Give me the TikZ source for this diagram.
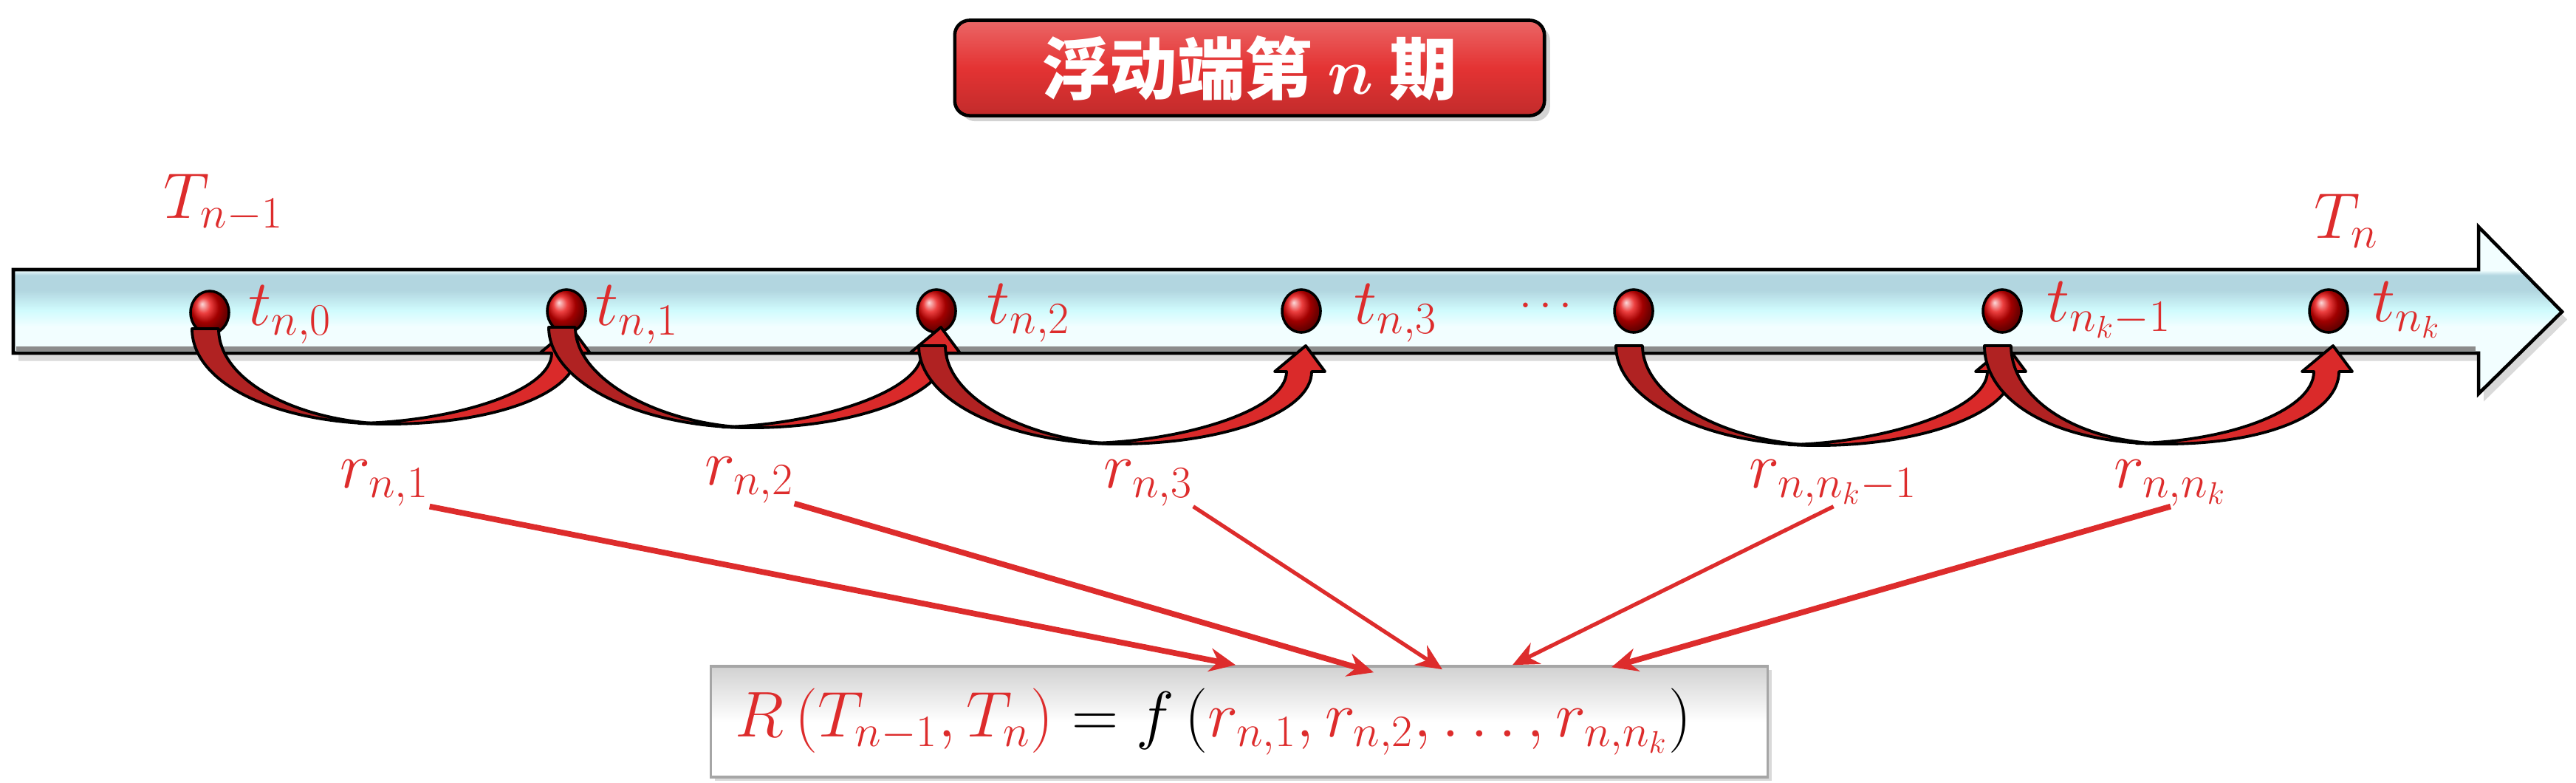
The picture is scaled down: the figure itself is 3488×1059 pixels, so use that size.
\documentclass[tikz,border=0pt]{standalone}
\usepackage{fontspec}
\newfontfamily\cjk{Noto Sans CJK SC}
\usetikzlibrary{shapes.geometric,calc,arrows.meta,shadows}

\definecolor{tred}{HTML}{DD2C2C}
\definecolor{hopdark}{HTML}{B02222}
\definecolor{hoplight}{HTML}{DA2A2A}
\definecolor{titlered}{HTML}{E43333}
\definecolor{barhi}{HTML}{B2D6E0}
\definecolor{barmid}{HTML}{D0FBFD}
\definecolor{barlow}{HTML}{F2FEFF}

\pgfdeclareverticalshading{barshade}{100bp}{color(0bp)=(barlow); color(39bp)=(barlow); color(45bp)=(barlow); color(50bp)=(barmid); color(56bp)=(barhi); color(60.5bp)=(barhi); color(62bp)=(barlow); color(100bp)=(barlow)}

% one hop: back band from dot #1, front band with head into dot #2
% #3 = drop of the tail top, #4 = drop of the lowest point
\newcommand{\hop}[4]{%
\coordinate (hm) at ($(#1)!0.5!(#2)$);
\filldraw[hopback] ($(#1)+(-24,-#3)$) .. controls ($(#1)+(-24,{-#3-75})$) and ($(hm)+(-150,-#4)$) .. ($(hm)+(0,-#4)$)
  .. controls ($(hm)+(-120,{-#4+3})$) and ($(#1)+(12,{-#3-72})$) .. ($(#1)+(12,-#3)$) -- cycle;
\filldraw[hopfront] ($(hm)+(-40,{-#4+1})$) -- ($(hm)+(0,-#4)$) .. controls ($(hm)+(143,-#4)$) and ($(#2)+(14,{-#3-90})$) .. ($(#2)+(14,{-#3-35})$)
  -- ($(#2)+(32,{-#3-35})$) -- ($(#2)+(6,-#3)$) -- ($(#2)+(-36,{-#3-35})$) -- ($(#2)+(-20,{-#3-35})$)
  .. controls ($(#2)+(-20,{-#3-88})$) and ($(hm)+(84,{-#4+3})$) .. ($(hm)+(-40,{-#4+1})$) -- cycle;
}

\begin{document}
\begin{tikzpicture}[x=0.01cm, y=0.01cm]
\tikzstyle{every node}+=[inner sep=0pt]
\tikzstyle{lab}=[text=tred, font=\fontsize{25}{30}\selectfont]
\tikzstyle{tdot}=[ellipse, draw=black, line width=1pt, minimum width=0.52cm, minimum height=0.58cm, ball color=red!90!black]
\tikzstyle{hopback}=[fill=hopdark, draw=black, line width=1.1pt, line join=round]
\tikzstyle{hopfront}=[fill=hoplight, draw=black, line width=1.1pt, line join=round]
\tikzstyle{feed}=[draw=tred, line width=2.2pt, -{Stealth[length=10pt,width=9pt]}]
\tikzstyle{titlebox}=[draw=black, line width=1.3pt, rounded corners=0.2cm, minimum width=7.98cm, minimum height=1.29cm,
  top color=titlered!75!white, bottom color=titlered!85!black, middle color=titlered, text=white,
  font=\fontsize{26}{30}\selectfont\bfseries, drop shadow={opacity=0.35}]
\tikzstyle{formbox}=[draw=black!35, line width=1pt, minimum width=14.3cm, minimum height=1.5cm,
  top color=black!18, bottom color=white, middle color=white, font=\fontsize{25.5}{30}\selectfont,
  drop shadow={opacity=0.3, shadow xshift=1.5pt, shadow yshift=-1.5pt}]
\useasboundingbox (0,0) rectangle (3488,-1059);

% title
\node[titlebox] (title) at (1692,-92) {\cjk 浮动端第 {\boldmath$n$} 期};

% time bar
\shadedraw[shading=barshade, draw=black, line width=1.3pt, drop shadow={opacity=0.3, shadow xshift=2pt, shadow yshift=-3pt}]
  (18,-365) -- (3356,-365) -- (3356,-307) -- (3469,-422) -- (3356,-533) -- (3356,-478) -- (18,-478) -- cycle;
\draw[black!45, line width=1.5pt] (22,-472) -- (3352,-472);

\node[lab, anchor=base west] (Tprev) at (221,-295) {$T_{n-1}$};
\node[lab, anchor=base west] (Tcur) at (3133,-322) {$T_n$};

% points on the bar
\node[tdot] (d0) at (284,-423) {};
\node[tdot] (d1) at (767,-421) {};
\node[tdot] (d2) at (1268,-421) {};
\node[tdot] (d3) at (1762,-421) {};
\node[tdot] (d4) at (2212,-421) {};
\node[tdot] (d5) at (2711,-421) {};
\node[tdot] (d6) at (3153,-421) {};

\node[lab, anchor=base west] (t0) at (336,-440) {$t_{n,0}$};
\node[lab, anchor=base west] (t1) at (806,-440) {$t_{n,1}$};
\node[lab, anchor=base west] (t2) at (1336,-438) {$t_{n,2}$};
\node[lab, anchor=base west] (t3) at (1833,-438) {$t_{n,3}$};
\node[lab, anchor=base] (dd) at (2093,-428) {\fontsize{16}{18}\selectfont$\cdots$};
\node[lab, anchor=base west] (t5) at (2771,-435) {$t_{n_k-1}$};
\node[lab, anchor=base west] (t6) at (3212,-435) {$t_{n_k}$};

% hops
\hop{d0}{d1}{22}{152}
\hop{d1}{d2}{22}{158}
\hop{d2}{d3}{47}{180}
\hop{d4}{d5}{47}{182}
\hop{d5}{d6}{47}{180}

% returns
\node[lab, anchor=base west] (r1) at (460,-660) {$r_{n,1}$};
\node[lab, anchor=base west] (r2) at (954,-656) {$r_{n,2}$};
\node[lab, anchor=base west] (r3) at (1494,-660) {$r_{n,3}$};
\node[lab, anchor=base west] (r4) at (2368,-660) {$r_{n,n_k-1}$};
\node[lab, anchor=base west] (r5) at (2862,-660) {$r_{n,n_k}$};

% formula
\node[formbox] (box) at (1678,-977)
  {$\color{tred}R\left(T_{n-1},T_n\right)\color{black}=f\left(\color{tred}r_{n,1},r_{n,2},\dots,r_{n,n_k}\color{black}\right)$\hspace*{0.7cm}};

\draw[feed] (r1.south east) -- ($(box.north)+(-5,0)$);
\draw[feed] (r2.south east) -- ($(box.north)+(182,-10)$);
\draw[feed, line width=1.5pt] (r3.south east) -- ($(box.north)+(275,-6)$);
\draw[feed, line width=1.5pt] (r4.south) -- ($(box.north)+(370,0)$);
\draw[feed] (r5.south) -- ($(box.north)+(504,-3)$);
\end{tikzpicture}
\end{document}
